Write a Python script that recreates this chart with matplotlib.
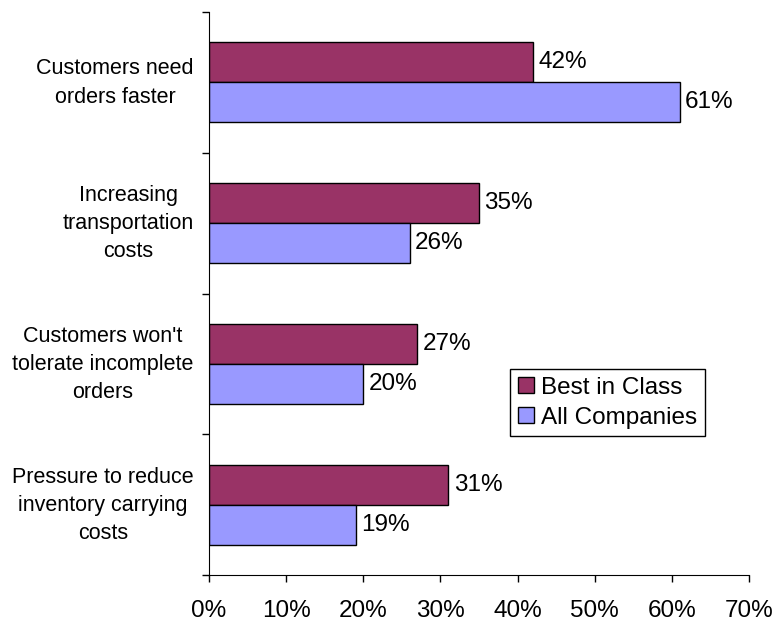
import numpy as np
import matplotlib.pyplot as plt
from matplotlib.ticker import FixedLocator, FuncFormatter
from matplotlib.transforms import ScaledTranslation

plt.rcParams['font.family'] = ['Liberation Sans', 'DejaVu Sans']

categories = ["Customers need\norders faster",
              "Increasing\ntransportation\ncosts",
              "Customers won't\ntolerate incomplete\norders",
              "Pressure to reduce\ninventory carrying\ncosts"]
best_in_class = [42, 35, 27, 31]
all_companies = [61, 26, 20, 19]
x_ticks = [0, 10, 20, 30, 40, 50, 60, 70]

fig = plt.figure(figsize=(7.74, 6.21), dpi=100)
ax = fig.add_axes([0.2700, 0.0740, 0.9677 - 0.2700, 0.9807 - 0.0740])

# top category first
y = np.arange(len(categories))[::-1]
h = 0.284

b1 = ax.barh(y + h / 2, best_in_class, height=h, color="#993366",
             edgecolor="black", linewidth=1, label="Best in Class")
b2 = ax.barh(y - h / 2, all_companies, height=h, color="#9999FF",
             edgecolor="black", linewidth=1, label="All Companies")

ax.bar_label(b1, fmt="%d%%", padding=4, fontsize=17.5)
ax.bar_label(b2, fmt="%d%%", padding=4, fontsize=17.5)

ax.set_xlim(0, 70)
ax.set_ylim(-0.5, len(categories) - 0.5)

ax.set_xticks(x_ticks)
ax.xaxis.set_major_formatter(FuncFormatter(lambda v, p: "%d%%" % v))
ax.tick_params(axis="x", direction="out", length=5, width=1, labelsize=17.5, pad=13)

# major ticks on category boundaries, labels on minor ticks at centres
ax.yaxis.set_major_locator(FixedLocator(np.arange(-0.5, len(categories), 1.0)))
ax.yaxis.set_major_formatter(FuncFormatter(lambda v, p: ""))
ax.set_yticks(y, minor=True)
ax.set_yticklabels(categories, minor=True)
ax.tick_params(axis="y", which="major", direction="out", length=5, width=1)
ax.tick_params(axis="y", which="minor", length=0, pad=11, labelsize=15.5)
shift = ScaledTranslation(0, 4 / 72, fig.dpi_scale_trans)
for t in ax.get_yticklabels(minor=True):
    t.set_multialignment("center")
    t.set_linespacing(1.45)
    t.set_transform(t.get_transform() + shift)

ax.spines["top"].set_visible(False)
ax.spines["right"].set_visible(False)
ax.spines["left"].set_color("black")
ax.spines["bottom"].set_color("black")

leg = ax.legend(loc="upper left", bbox_to_anchor=(510 / 774, 1 - 369 / 621),
                bbox_transform=fig.transFigure, borderaxespad=0, fontsize=17.5,
                handlelength=0.66, handleheight=0.66, handletextpad=0.3,
                labelspacing=0.32, borderpad=0.32, fancybox=False, framealpha=1)
leg.get_frame().set_edgecolor("black")
leg.get_frame().set_linewidth(1)

plt.savefig("out.png", dpi=100)
